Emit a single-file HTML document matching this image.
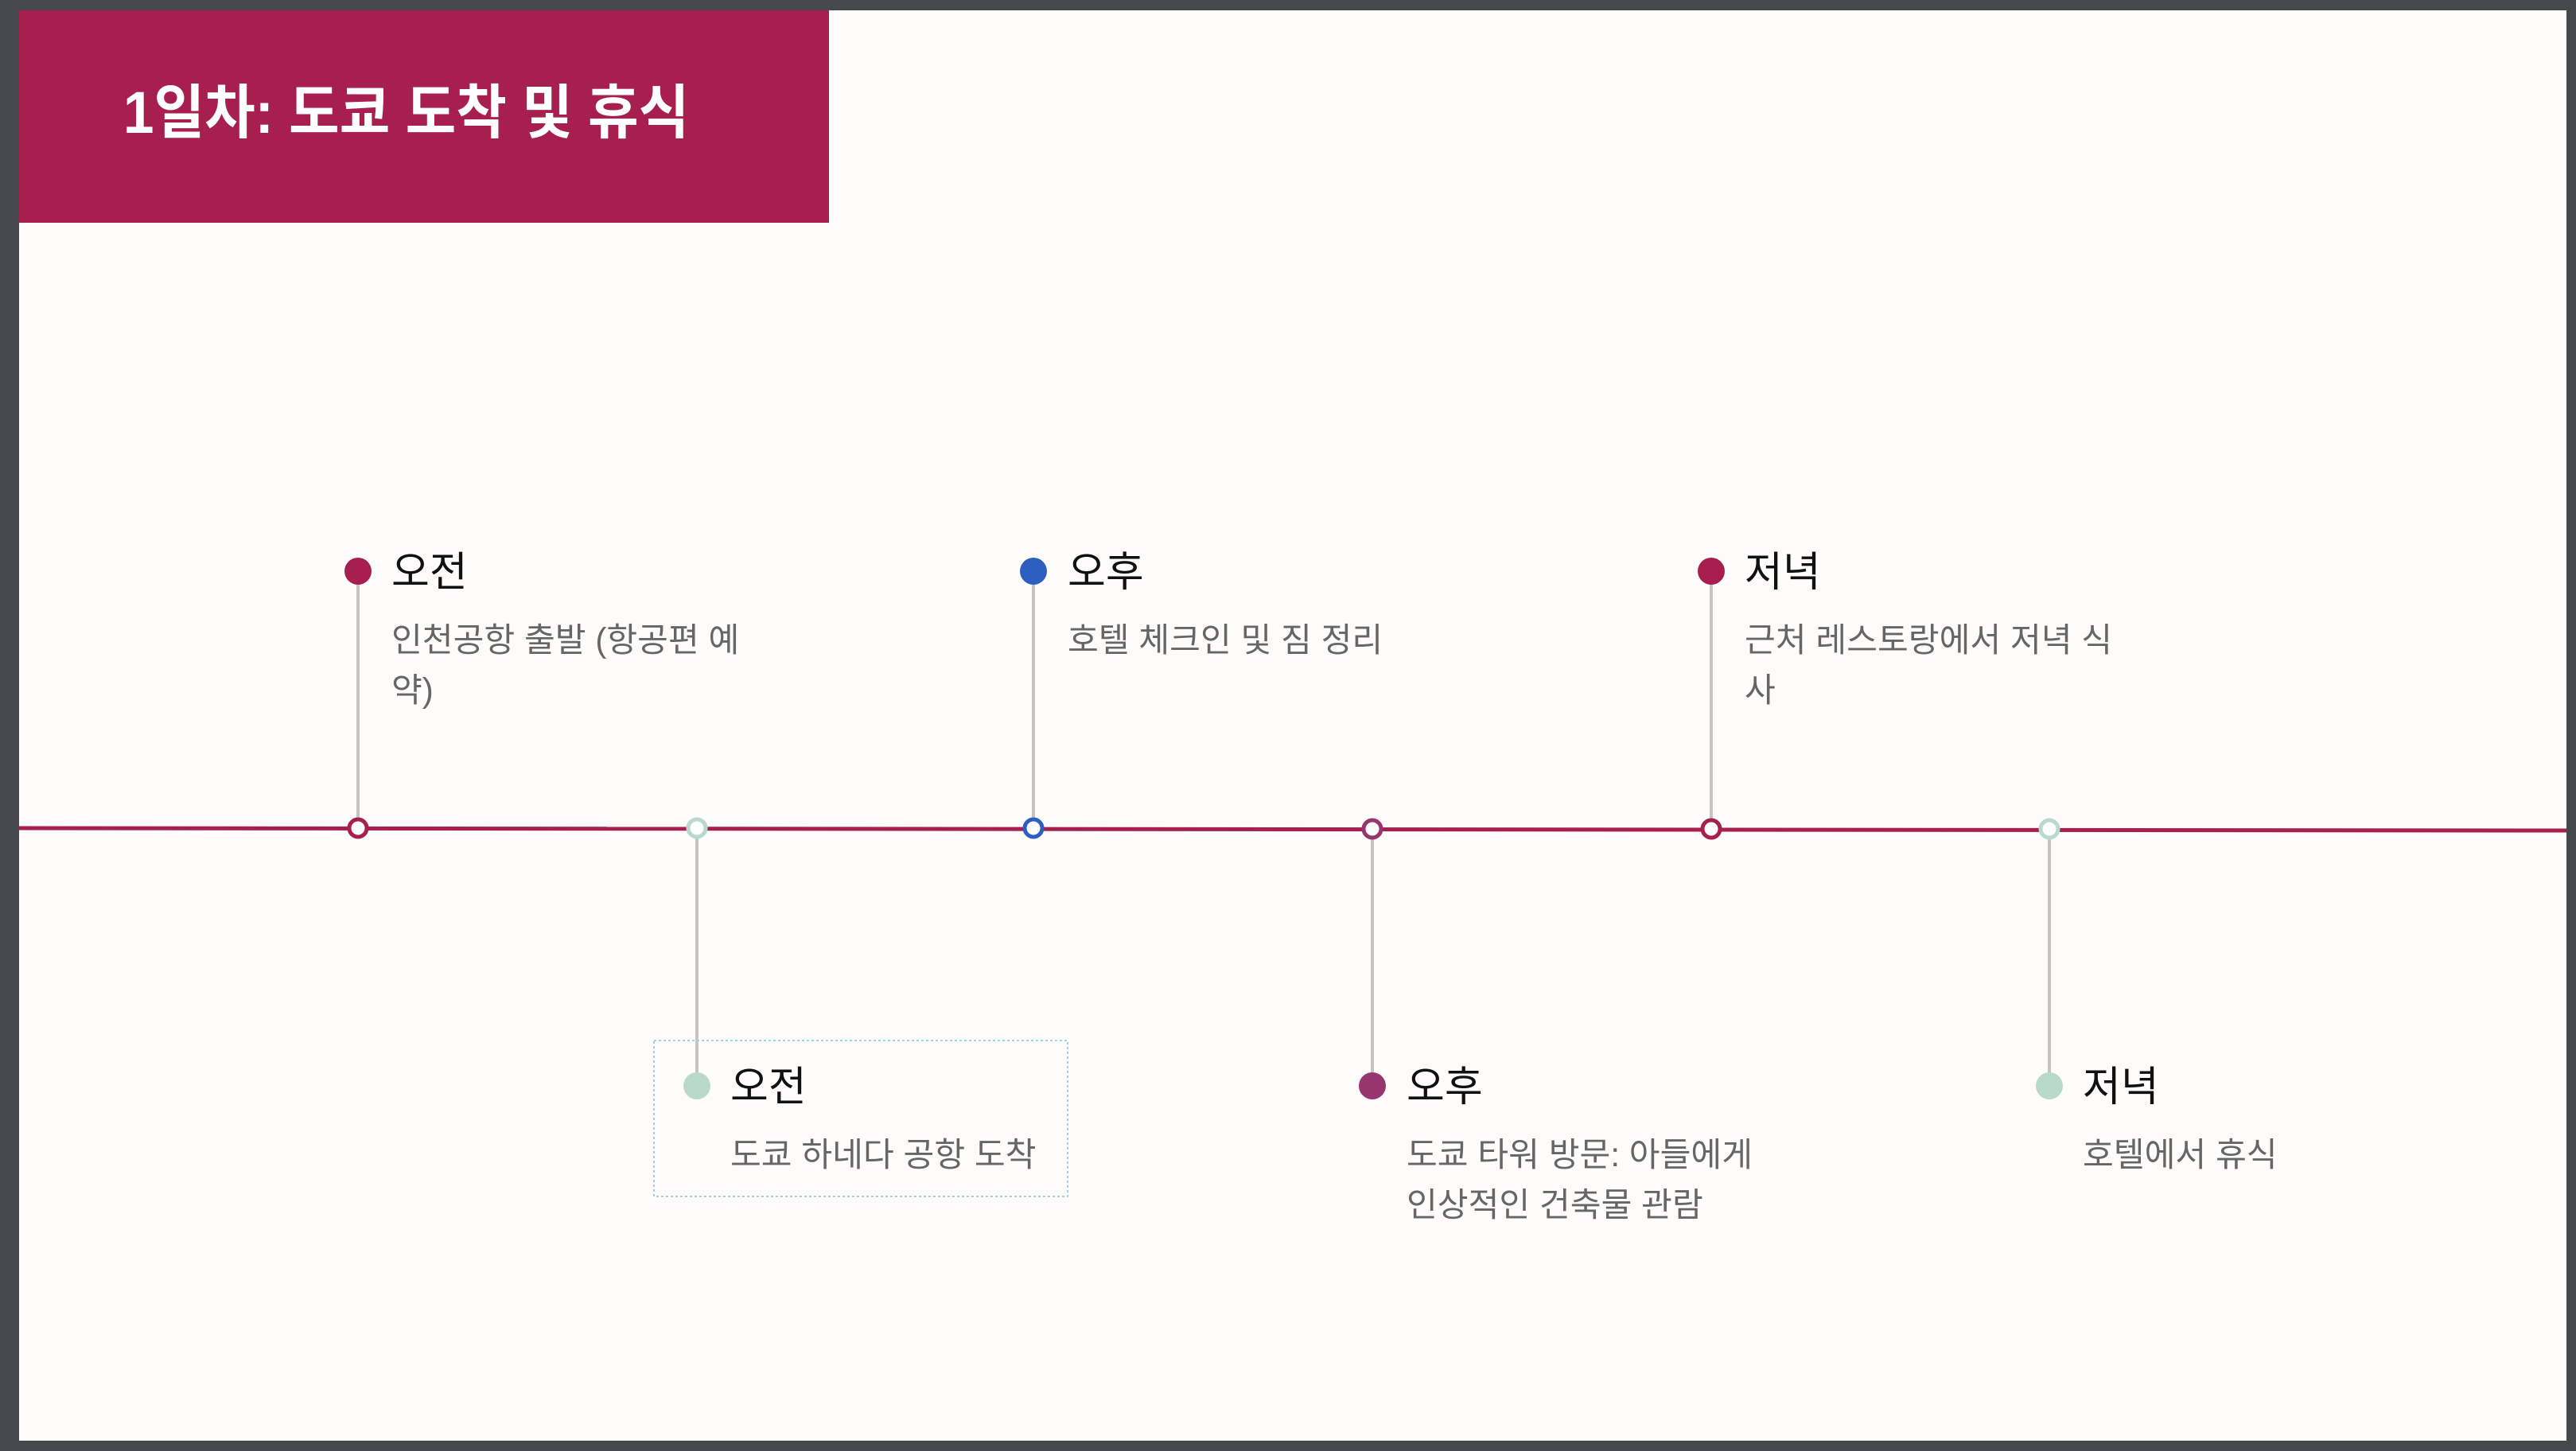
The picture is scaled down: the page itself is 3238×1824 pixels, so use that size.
<!DOCTYPE html>
<html><head><meta charset="utf-8"><style>
html,body{margin:0;padding:0;}
body{width:3238px;height:1824px;background:#45484d;position:relative;overflow:hidden;font-family:"Liberation Sans","Noto Sans CJK KR",sans-serif;}
#page{position:absolute;left:24px;top:13px;width:3202px;height:1798px;background:#fdfcfb;}
#hdr{position:absolute;left:24px;top:13px;width:1018px;height:267px;background:#a61f4f;}
#hdr span{position:absolute;left:131px;top:92px;font-size:74px;font-weight:bold;color:#fff;line-height:74px;white-space:nowrap;transform:scaleX(0.935);transform-origin:0 0;}
.t{position:absolute;font-size:52px;color:#111;line-height:60px;white-space:nowrap;}
.d{position:absolute;font-size:42.2px;color:#666;line-height:63px;white-space:nowrap;}
svg{position:absolute;left:0;top:0;}
</style></head><body>
<div id="page"></div>
<div id="hdr"><span>1일차: 도쿄 도착 및 휴식</span></div>
<svg width="3238" height="1824">
 <rect x="822" y="1308" width="520" height="196" fill="none" stroke="#9fd0e8" stroke-width="2" stroke-dasharray="3,3"/>
 <g stroke="#c4c4c4" stroke-width="4">
  <line x1="450" y1="717" x2="450" y2="1041"/>
  <line x1="876" y1="1041" x2="876" y2="1364"/>
  <line x1="1299" y1="717" x2="1299" y2="1041"/>
  <line x1="1725" y1="1041" x2="1725" y2="1364"/>
  <line x1="2151" y1="717" x2="2151" y2="1041"/>
  <line x1="2576" y1="1041" x2="2576" y2="1364"/>
 </g>
 <line x1="24" y1="1041" x2="3226" y2="1044" stroke="#a61f4f" stroke-width="5"/>
 <g stroke-width="5" fill="#fff">
  <circle cx="450" cy="1041" r="11" stroke="#a61f4f"/>
  <circle cx="876" cy="1041" r="11" stroke="#b9d9cd"/>
  <circle cx="1299" cy="1041" r="11" stroke="#2c5fbf"/>
  <circle cx="1725" cy="1042" r="11" stroke="#97356f"/>
  <circle cx="2151" cy="1042" r="11" stroke="#a61f4f"/>
  <circle cx="2576" cy="1042" r="11" stroke="#b9d9cd"/>
 </g>
 <circle cx="450" cy="718" r="17" fill="#a61f4f"/>
 <circle cx="876" cy="1365" r="17" fill="#b9d9cd"/>
 <circle cx="1299" cy="718" r="17" fill="#2c5fbf"/>
 <circle cx="1725" cy="1365" r="17" fill="#97356f"/>
 <circle cx="2151" cy="718" r="17" fill="#a61f4f"/>
 <circle cx="2576" cy="1365" r="17" fill="#b9d9cd"/>
</svg>
<div class="t" style="left:492px;top:690px">오전</div>
<div class="d" style="left:492px;top:773px">인천공항 출발 (항공편 예<br>약)</div>
<div class="t" style="left:918px;top:1337px">오전</div>
<div class="d" style="left:918px;top:1420px">도쿄 하네다 공항 도착</div>
<div class="t" style="left:1342px;top:690px">오후</div>
<div class="d" style="left:1342px;top:773px">호텔 체크인 및 짐 정리</div>
<div class="t" style="left:1768px;top:1337px">오후</div>
<div class="d" style="left:1768px;top:1420px">도쿄 타워 방문: 아들에게<br>인상적인 건축물 관람</div>
<div class="t" style="left:2193px;top:690px">저녁</div>
<div class="d" style="left:2193px;top:773px">근처 레스토랑에서 저녁 식<br>사</div>
<div class="t" style="left:2618px;top:1337px">저녁</div>
<div class="d" style="left:2618px;top:1420px">호텔에서 휴식</div>
</body></html>
